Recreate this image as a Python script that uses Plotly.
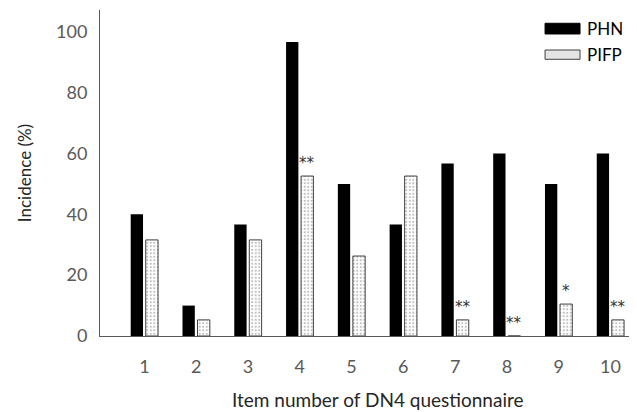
import plotly.graph_objects as go

items = [1, 2, 3, 4, 5, 6, 7, 8, 9, 10]
phn = [40.0, 10.0, 36.7, 96.7, 50.0, 36.7, 56.7, 60.0, 50.0, 60.0]
pifp = [31.6, 5.3, 31.6, 52.6, 26.3, 52.6, 5.3, 0.0, 10.5, 5.3]
sig = ["", "", "", "**", "", "", "**", "**", "*", "**"]
y_ticks = [0, 20, 40, 60, 80, 100]

FONT = "Lato"
GREY = "#595959"
BAR_W = 0.238
PHN_OFF = -0.265
PIFP_OFF = 0.025

fig = go.Figure()
fig.add_trace(go.Bar(
    x=items, y=phn, name="PHN", width=BAR_W, offset=PHN_OFF,
    marker=dict(color="black", line=dict(width=0)),
    showlegend=False,
))
fig.add_trace(go.Bar(
    x=items, y=pifp, name="PIFP", width=BAR_W, offset=PIFP_OFF,
    marker=dict(color="white",
                line=dict(color="#404040", width=1),
                pattern=dict(shape=".", fgcolor="#808080", bgcolor="white",
                             size=3.5, solidity=0.3)),
    showlegend=False,
))

for xi, yi, s in zip(items, pifp, sig):
    if s:
        fig.add_annotation(
            x=xi + PIFP_OFF + BAR_W / 2, y=yi, text=s, showarrow=False,
            yanchor="bottom", yshift=2,
            font=dict(family="DejaVu Sans", size=15, color="#333333"),
        )

# legend drawn manually
leg = [("PHN", 0.9264, 0.9593, "black", None),
       ("PIFP", 0.8488, 0.8773, "#e4e4e4", "#404040")]
for name, y0, y1, fill, lc in leg:
    fig.add_shape(type="rect", xref="paper", yref="paper",
                  x0=0.835, x1=0.9006, y0=y0, y1=y1,
                  fillcolor=fill,
                  line=dict(color=lc if lc else fill, width=1))
    fig.add_annotation(xref="paper", yref="paper", x=0.91, y=(y0 + y1) / 2,
                       text=name, showarrow=False, xanchor="left",
                       yanchor="middle",
                       font=dict(family=FONT, size=17, color="black"))

fig.add_annotation(xref="paper", yref="paper", x=0.5216, y=-0.196,
                   text="Item number of DN4 questionnaire", showarrow=False,
                   xanchor="center", yanchor="middle",
                   font=dict(family=FONT, size=19, color="#262626"))

# page body has an 8px margin; compensate so the plot area lands where intended
fig.update_layout(
    width=637, height=412,
    margin=dict(l=92, r=12, t=2, b=84),
    paper_bgcolor="white", plot_bgcolor="white",
    barmode="overlay",
    font=dict(family=FONT),
    xaxis=dict(range=[0.142, 10.435], tickmode="array", tickvals=items,
               ticktext=[str(i) for i in items], showgrid=False,
               showline=True, linecolor=GREY, linewidth=1, ticks="",
               zeroline=False, ticklabelstandoff=14,
               tickfont=dict(family=FONT, size=18, color=GREY)),
    yaxis=dict(range=[0, 107.2], tickmode="array", tickvals=y_ticks,
               showgrid=False, showline=True, linecolor=GREY, linewidth=1,
               ticks="", zeroline=False, ticklabelstandoff=8,
               tickfont=dict(family=FONT, size=18, color=GREY),
               title=dict(text="Incidence (%)", standoff=20,
                          font=dict(family=FONT, size=17, color="#262626"))),
)

fig.write_html("out.html")
